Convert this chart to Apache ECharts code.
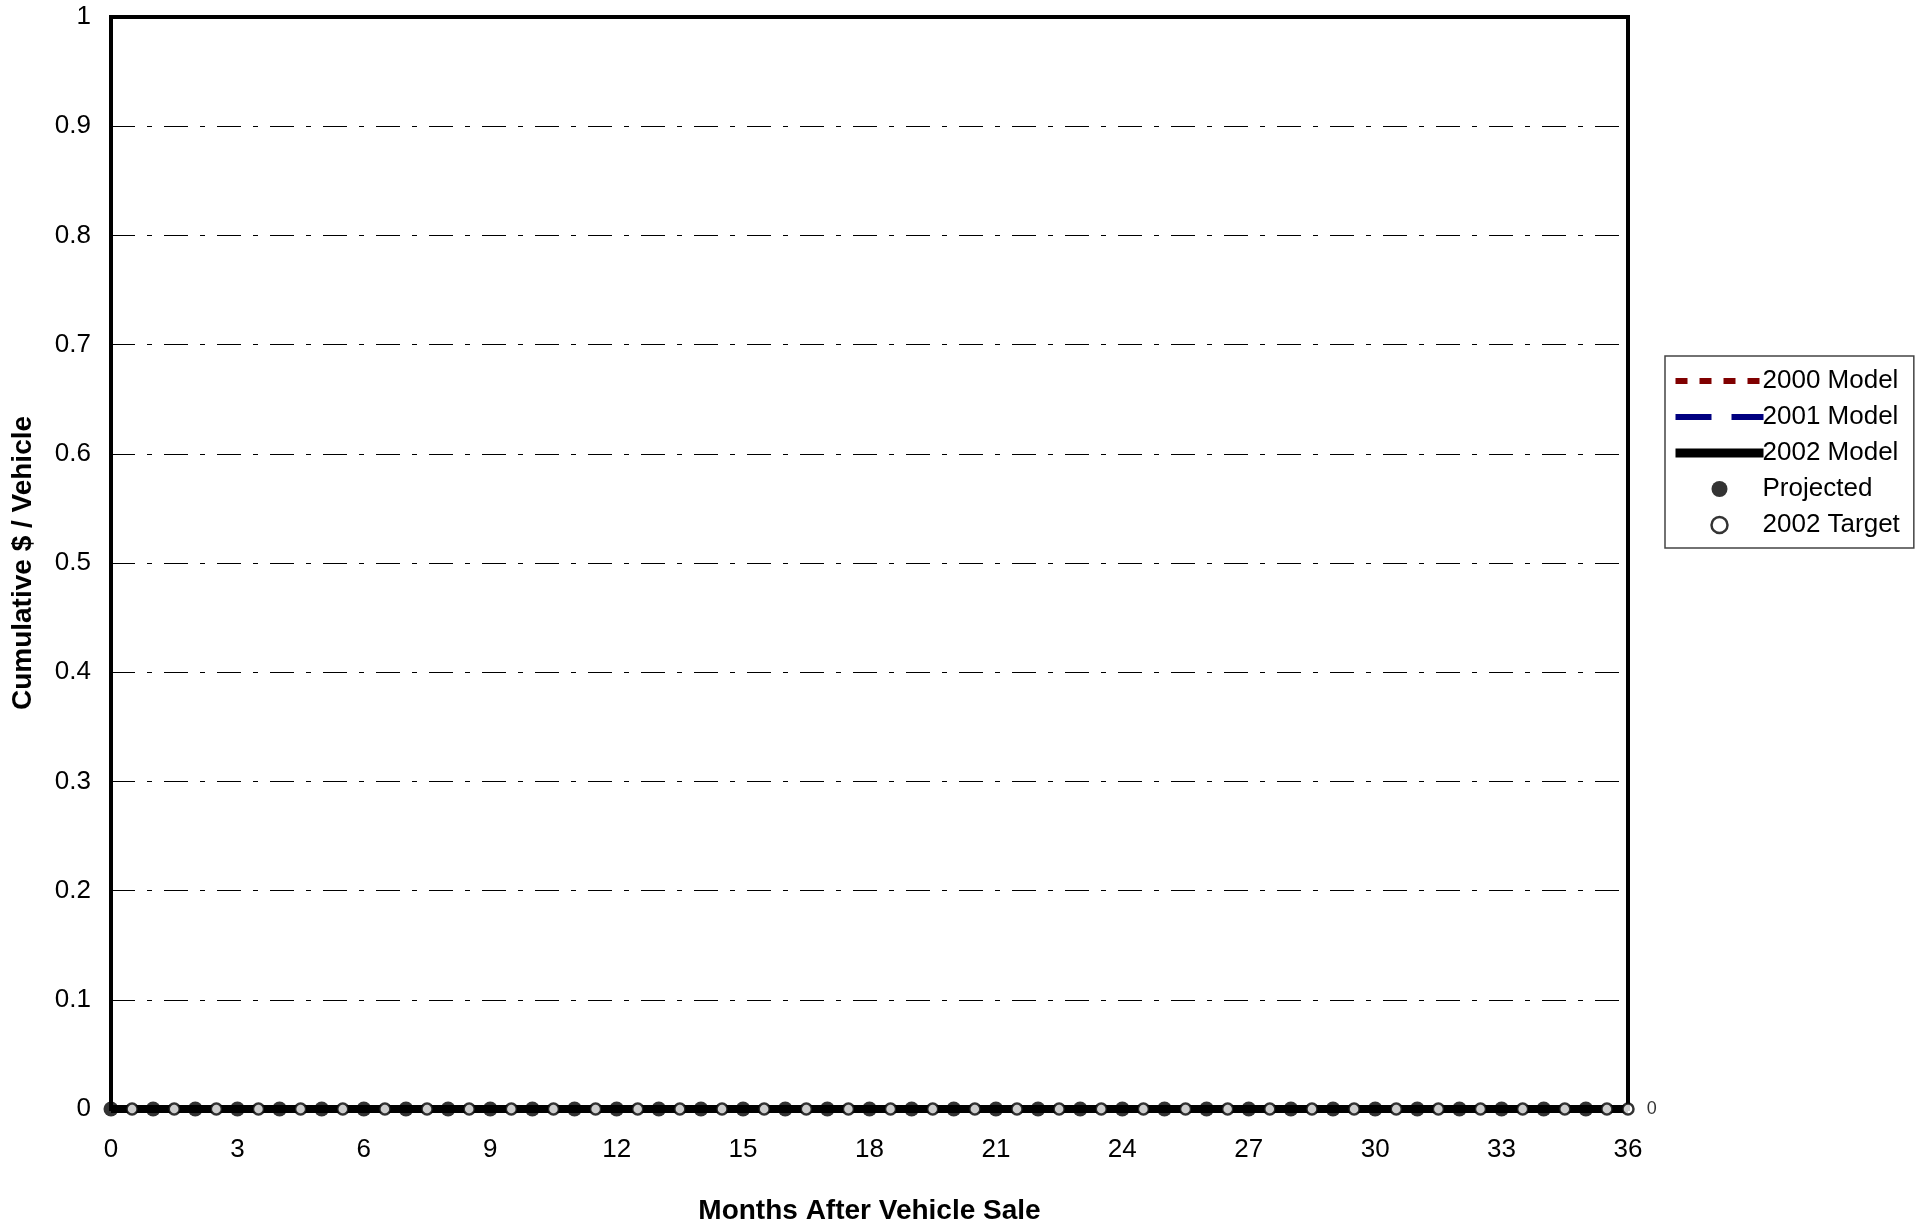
<!DOCTYPE html>
<html>
<head>
<meta charset="utf-8">
<script src="https://cdn.jsdelivr.net/npm/echarts@6/dist/echarts.min.js"></script>
<style>html,body{margin:0;padding:0;background:#fff}#main{width:1927px;height:1230px}</style>
</head>
<body>
<div id="main"></div>
<script>
// months after sale
var months = [];
for (var i = 0; i <= 36; i++) months.push(i);
var targetMonths = [];
for (var i = 0; i <= 72; i++) targetMonths.push(i / 2);

var model2000 = [];
var model2001 = [];
var model2002 = months.map(function (m) { return [m, 0]; });
var projected = months.slice(0, 36).map(function (m) { return [m, 0]; });
var target2002 = targetMonths.filter(function (m) { return m % 1 !== 0 || m === 36; }).map(function (m) { return [m, 0]; });

var chart = echarts.init(document.getElementById('main'));
var font = 'Liberation Sans, Arial, sans-serif';
var noDot = { opacity: 0 };
chart.setOption({
    animation: false,
    textStyle: { fontFamily: font },
    grid: { left: 111, right: 299, top: 17, bottom: 112, show: true, borderColor: '#000', borderWidth: 4 },
    legend: {
        orient: 'vertical', left: 1665, top: 356, padding: [12, 14, 10, 6],
        itemWidth: 88, itemHeight: 16, itemGap: 10,
        borderColor: '#444', borderWidth: 1.5,
        textStyle: { fontSize: 26, color: '#000', fontFamily: font, padding: [0, 0, 0, -6] },
        data: [
            { name: '2000 Model', itemStyle: noDot, lineStyle: { color: '#800000', width: 6, type: [12, 12] } },
            { name: '2001 Model', itemStyle: noDot, lineStyle: { color: '#000080', width: 6, type: [36, 20] } },
            { name: '2002 Model', itemStyle: noDot, lineStyle: { color: '#000', width: 9 } },
            { name: 'Projected', icon: 'circle', itemStyle: { color: '#000' } },
            { name: '2002 Target', icon: 'circle', itemStyle: { color: '#fff', borderColor: '#000', borderWidth: 2.5 } }
        ]
    },
    xAxis: {
        type: 'value', min: 0, max: 36, interval: 3,
        name: 'Months After Vehicle Sale', nameLocation: 'middle', nameGap: 88,
        nameTextStyle: { fontSize: 28, fontWeight: 'bold', color: '#000' },
        axisLine: { show: false }, axisTick: { show: false }, splitLine: { show: false },
        axisLabel: { fontSize: 26, color: '#000', margin: 28 }
    },
    yAxis: {
        type: 'value', min: 0, max: 1, interval: 0.1,
        name: 'Cumulative $ / Vehicle', nameLocation: 'middle', nameGap: 74,
        nameTextStyle: { fontSize: 28, fontWeight: 'bold', color: '#000' },
        axisLine: { show: false }, axisTick: { show: false },
        axisLabel: { fontSize: 26, color: '#000', margin: 20, formatter: function (v) { return +v.toFixed(1) + ''; } },
        splitLine: { lineStyle: { color: '#000', width: 1.2, type: [24, 12, 5, 12] } }
    },
    series: [
        { name: '2000 Model', type: 'line', data: model2000, symbol: 'none', itemStyle: { color: '#800000' }, lineStyle: { color: '#800000', width: 6, type: [12, 12] } },
        { name: '2001 Model', type: 'line', data: model2001, symbol: 'none', itemStyle: { color: '#000080' }, lineStyle: { color: '#000080', width: 6, type: [36, 20] } },
        { name: '2002 Model', type: 'line', data: model2002, symbol: 'none', itemStyle: { color: '#000' }, lineStyle: { color: '#000', width: 8 } },
        { name: 'Projected', type: 'scatter', data: projected, symbol: 'circle', symbolSize: 15, itemStyle: { color: '#000' }, z: 4 },
        { name: '2002 Target', type: 'scatter', data: target2002, symbol: 'circle', symbolSize: 11, itemStyle: { color: '#fff', borderColor: '#000', borderWidth: 2.5 }, z: 5,
          label: { show: true, position: 'right', distance: 12, fontSize: 18, color: '#000',
            formatter: function (p) { return p.value[0] === 36 ? '0' : ''; } } }
    ]
});
</script>
</body>
</html>
